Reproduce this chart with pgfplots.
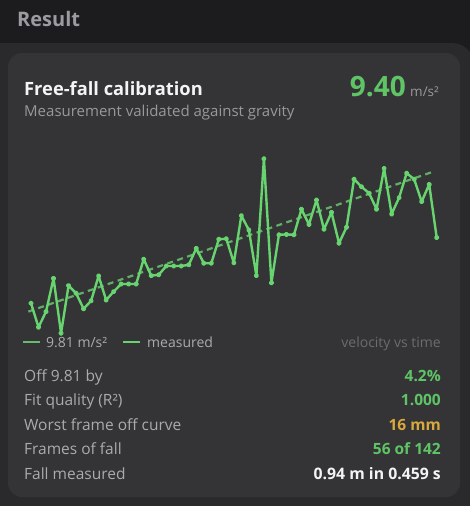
\documentclass[border=0pt]{standalone}
\usepackage{pgfplots}
\pgfplotsset{compat=1.18}
\usepackage{fontspec}
\setmainfont{Open Sans}
\definecolor{bg}{HTML}{1C1C1E}
\definecolor{outercard}{HTML}{2A2A2C}
\definecolor{card}{HTML}{343436}
\definecolor{wht}{HTML}{F4F4F6}
\definecolor{sub}{HTML}{98989D}
\definecolor{hdr}{HTML}{9C9CA0}
\definecolor{lbl}{HTML}{ABABAF}
\definecolor{dim}{HTML}{6C6C70}
\definecolor{gline}{HTML}{68D470}
\definecolor{gdash}{HTML}{66BC6C}
\definecolor{gtext}{HTML}{5EC466}
\definecolor{ybig}{HTML}{D8A93C}
\newcommand{\fs}[1]{\fontsize{#1}{#1}\selectfont}
\begin{document}
\begin{tikzpicture}[x=1pt,y=1pt]
\path[use as bounding box, fill=bg] (0,0) rectangle (470,-506);
\fill[outercard, rounded corners=22pt] (-30,-43) rectangle (474,-540);
\fill[card, rounded corners=14pt] (8,-53) rectangle (460,-497);
% header
\node[anchor=base west, inner sep=0, text=hdr] at (17,-26) {\fs{20}\bfseries Result};
\node[anchor=base west, inner sep=0, text=wht] at (24,-95.5) {\fs{18.3}\bfseries Free-fall calibration};
\node[anchor=base west, inner sep=0, text=sub] at (24,-116.5) {\fs{15}Measurement validated against gravity};
\node[anchor=base east, inner sep=0, text=gtext] at (406,-96) {\fs{28}\bfseries 9.40};
\node[anchor=base west, inner sep=0, text=sub] at (410,-96) {\fs{13.5}m/s²};
% chart
\begin{axis}[at={(31pt,-340pt)}, anchor=south west, scale only axis,
  width=405.7pt, height=200pt, xmin=0, xmax=54, ymin=0, ymax=5,
  axis lines=none, clip=false, ticks=none]
\addplot[gdash, line width=2.2pt, dash pattern=on 6pt off 4.5pt, opacity=0.9] coordinates {(-0.36,0.71) (53.57,4.21)};
\addplot[gline, line width=2.4pt, line join=round, mark=*, mark size=1.5pt, mark options={fill=gline!70!white, draw=none}] coordinates {
(0,0.92) (1,0.32) (2,0.71) (3,1.54) (4,0.17) (5,1.36) (6,1.17) (7,0.78) (8,0.98) (9,1.60)
(10,1.00) (11,1.21) (12,1.40) (13,1.40) (14,1.40) (15,2.02) (16,1.61) (17,1.63) (18,1.85) (19,1.85)
(20,1.85) (21,1.88) (22,2.29) (23,1.92) (24,1.92) (25,2.52) (26,2.53) (27,1.93) (28,3.11) (29,2.75)
(30,1.61) (31,4.53) (32,1.43) (33,2.63) (34,2.64) (35,2.63) (36,3.27) (37,2.89) (38,3.50) (39,2.77)
(40,3.19) (41,2.42) (42,2.82) (43,4.02) (44,3.83) (45,3.67) (46,3.27) (47,4.29) (48,3.15) (49,3.56)
(50,4.17) (51,4.02) (52,3.46) (53,3.89) (54,2.56)};
\end{axis}
% legend
\draw[gdash, line width=2pt] (23,-342) -- (40,-342);
\node[anchor=base west, inner sep=0, text=lbl] at (46,-347) {\fs{14}9.81 m/s²};
\draw[gline, line width=2pt] (123,-342) -- (140,-342);
\node[anchor=base west, inner sep=0, text=lbl] at (147,-347) {\fs{14}measured};
\node[anchor=base east, inner sep=0, text=dim] at (441,-347) {\fs{14}velocity vs time};
% rows
\node[anchor=base west, inner sep=0, text=lbl] at (24,-381) {\fs{15.5}Off 9.81 by};
\node[anchor=base east, inner sep=0, text=gtext] at (441,-381) {\fs{15.5}\bfseries 4.2\%};
\node[anchor=base west, inner sep=0, text=lbl] at (24,-405.5) {\fs{15.5}Fit quality (R²)};
\node[anchor=base east, inner sep=0, text=gtext] at (441,-405.5) {\fs{15.5}\bfseries 1.000};
\node[anchor=base west, inner sep=0, text=lbl] at (24,-430) {\fs{15.5}Worst frame off curve};
\node[anchor=base east, inner sep=0, text=ybig] at (441,-430) {\fs{15.5}\bfseries 16 mm};
\node[anchor=base west, inner sep=0, text=lbl] at (24,-454.5) {\fs{15.5}Frames of fall};
\node[anchor=base east, inner sep=0, text=gtext] at (441,-454.5) {\fs{15.5}\bfseries 56 of 142};
\node[anchor=base west, inner sep=0, text=lbl] at (24,-479) {\fs{15.5}Fall measured};
\node[anchor=base east, inner sep=0, text=wht] at (441,-479) {\fs{15.8}\bfseries 0.94 m in 0.459 s};
\end{tikzpicture}
\end{document}
